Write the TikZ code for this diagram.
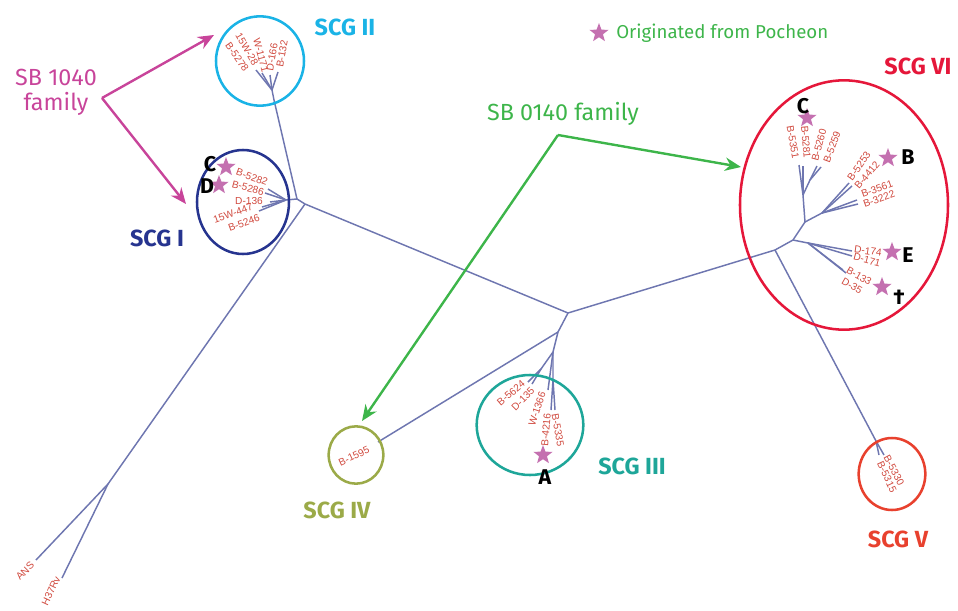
\documentclass[tikz,border=0pt]{standalone}
\usepackage{fontspec}
\setmainfont{Fira Sans}
\setsansfont{Fira Sans}
\newfontfamily\tipfont{Liberation Sans}
\usetikzlibrary{arrows.meta,shapes.geometric}
\definecolor{treeblue}{HTML}{6E76B0}
\definecolor{tipred}{HTML}{D0493E}
\definecolor{scgone}{HTML}{26348F}
\definecolor{scgtwo}{HTML}{1AB3E6}
\definecolor{scgthree}{HTML}{1EA699}
\definecolor{scgfour}{HTML}{9BAA48}
\definecolor{scgfive}{HTML}{E8412E}
\definecolor{scgsix}{HTML}{E5173A}
\definecolor{pinkstar}{HTML}{C470B0}
\definecolor{famA}{HTML}{C8449A}
\definecolor{famB}{HTML}{3DB54A}
\tikzset{
  branch/.style={draw=treeblue, line width=1.1pt},
  tip/.style={font=\tipfont\fontsize{7.6}{7.6}\selectfont, text=tipred, inner sep=0pt},
  grp/.style={ellipse, draw, line width=1.9pt, inner sep=0pt},
  grplabel/.style={font=\bfseries\fontsize{17.5}{17.5}\selectfont, inner sep=0pt},
  fam/.style={font=\fontsize{17.5}{19}\selectfont, inner sep=0pt, align=center},
  pstar/.style={star, star points=5, star point ratio=2.4, fill=pinkstar, draw=none, minimum size=15pt, inner sep=0pt},
  letter/.style={font=\bfseries\fontsize{16}{16}\selectfont, inner sep=0pt},
  famarrow/.style={line width=1.8pt, -{Stealth[length=12pt,width=10pt]}}
}
\begin{document}
\begin{tikzpicture}[x=0.75pt,y=-0.75pt]
\useasboundingbox (0,0) rectangle (958,611);

% ---------- tree coordinates ----------
\coordinate (M1) at (568,313);
\coordinate (N1) at (305,204);
\coordinate (I0) at (297,199);
\coordinate (I1) at (286,200);
\coordinate (Ia) at (268,189);
\coordinate (Ib) at (265,193);
\coordinate (Ic) at (270,202);
\coordinate (Id) at (262,207);
\coordinate (Ie) at (259,211);
\coordinate (BL) at (108,484);
\coordinate (ansE) at (36,560);
\coordinate (h37E) at (62,578);
\coordinate (II0) at (274,100);
\coordinate (II1) at (272,90);
\coordinate (IIa) at (256,70);
\coordinate (IIb) at (262,73);
\coordinate (IIc) at (270,75);
\coordinate (IId) at (278,72);
\coordinate (III0) at (558,332);
\coordinate (III1) at (553,352);
\coordinate (III2) at (541,369);
\coordinate (IIIa) at (528,382);
\coordinate (IIIb) at (532,384);
\coordinate (IIIc) at (548,390);
\coordinate (III3) at (553,380);
\coordinate (IIId) at (551,410);
\coordinate (IIIe) at (555,410);
\coordinate (IVa) at (378,442);
\coordinate (V1) at (775,250);
\coordinate (V2) at (793,240);
\coordinate (V3) at (805,222);
\coordinate (V4) at (803,195);
\coordinate (VIa) at (799,165);
\coordinate (VIb) at (803,166);
\coordinate (V4b) at (810,180);
\coordinate (VIc) at (817,166);
\coordinate (VId) at (821,167);
\coordinate (V3b) at (822,213);
\coordinate (VIe) at (849,183);
\coordinate (VIf) at (852,186);
\coordinate (VIg) at (857,200);
\coordinate (VIh) at (858,204);
\coordinate (V5) at (808,243);
\coordinate (VIi) at (852,251);
\coordinate (VIj) at (852,256);
\coordinate (VIk) at (843,270);
\coordinate (VIl) at (846,273);
\coordinate (V0) at (876,441);
\coordinate (Va) at (879,455);
\coordinate (Vb) at (884,455);

% ---------- branches ----------
\draw[branch] (M1) -- (N1) -- (I0) -- (I1);
\draw[branch] (I1) -- (Ia); \draw[branch] (I1) -- (Ib);
\draw[branch] (I1) -- (Ic); \draw[branch] (I1) -- (Id); \draw[branch] (I1) -- (Ie);
\draw[branch] (N1) -- (BL) -- (ansE); \draw[branch] (BL) -- (h37E);
\draw[branch] (I0) -- (II0) -- (II1);
\draw[branch] (II1) -- (IIa); \draw[branch] (II1) -- (IIb);
\draw[branch] (II1) -- (IIc); \draw[branch] (II1) -- (IId);
\draw[branch] (M1) -- (III0) -- (III1) -- (III2) -- (IIIa); \draw[branch] (III2) -- (IIIb);
\draw[branch] (III1) -- (IIIc);
\draw[branch] (III1) -- (III3) -- (IIId); \draw[branch] (III3) -- (IIIe);
\draw[branch] (III0) -- (IVa);
\draw[branch] (M1) -- (V1) -- (V2) -- (V3) -- (V4) -- (VIa); \draw[branch] (V4) -- (VIb);
\draw[branch] (V4) -- (V4b) -- (VIc); \draw[branch] (V4b) -- (VId);
\draw[branch] (V3) -- (V3b) -- (VIe); \draw[branch] (V3b) -- (VIf);
\draw[branch] (V3b) -- (VIg); \draw[branch] (V3b) -- (VIh);
\draw[branch] (V2) -- (V5) -- (VIi); \draw[branch] (V5) -- (VIj);
\draw[branch] (V5) -- (VIk); \draw[branch] (V5) -- (VIl);
\draw[branch] (V1) -- (V0) -- (Va); \draw[branch] (V0) -- (Vb);

% ---------- group outlines ----------
\node[grp, draw=scgone, minimum width=69pt, minimum height=78pt] (gI) at (243,202) {};
\node[grp, draw=scgtwo, minimum width=66pt, minimum height=67pt] (gII) at (260,61) {};
\node[grp, draw=scgthree, minimum width=80pt, minimum height=75pt] (gIII) at (530,425) {};
\node[grp, draw=scgfour, minimum width=41pt, minimum height=43pt] (gIV) at (356,455) {};
\node[grp, draw=scgfive, minimum width=50pt, minimum height=54pt] (gV) at (892,474) {};
\node[grp, draw=scgsix, minimum width=156pt, minimum height=187pt] (gVI) at (844,205) {};

% ---------- group labels ----------
\node[grplabel, text=scgone] (lI) at (157,238) {SCG I};
\node[grplabel, text=scgtwo] (lII) at (345,27) {SCG II};
\node[grplabel, text=scgthree] (lIII) at (632,466) {SCG III};
\node[grplabel, text=scgfour] (lIV) at (337,510) {SCG IV};
\node[grplabel, text=scgfive] (lV) at (898,539) {SCG V};
\node[grplabel, text=scgsix] (lVI) at (918,66) {SCG VI};

% ---------- tip labels ----------
\node[tip, rotate=45] (tANS) at (25,571) {ANS};
\node[tip, rotate=65] (tH37) at (51,591) {H37Rv};
\node[tip, rotate=-20] (t5282) at (252,177) {B-5282};
\node[tip, rotate=-15] (t5286) at (248,188) {B-5286};
\node[tip] (t136) at (249,201) {D-136};
\node[tip, rotate=20] (t447) at (233,213) {15W-447};
\node[tip, rotate=20] (t5246) at (244,223) {B-5246};
\node[tip, rotate=-60] (t28) at (247,49) {15W-28};
\node[tip, rotate=-55] (t5278) at (237,57) {B-5278};
\node[tip, rotate=-75] (t1171) at (261,55) {W-1171};
\node[tip, rotate=80] (t166) at (272,57) {D-166};
\node[tip, rotate=80] (t132) at (282,54) {B-132};
\node[tip, rotate=40] (t5624) at (511,393) {B-5624};
\node[tip, rotate=45] (t135) at (523,399) {D-135};
\node[tip, rotate=72] (t1366) at (537,409) {W-1366};
\node[tip, rotate=85] (t4216) at (546,430) {B-4216};
\node[tip, rotate=-80] (t5335) at (558,430) {B-5335};
\node[tip, rotate=25] (t1595) at (354,456) {B-1595};
\node[tip, rotate=-62] (t5330) at (894,470) {B-5330};
\node[tip, rotate=-65] (t5315) at (887,477) {B-5315};
\node[tip, rotate=-85] (t5281) at (806,142) {B-5281};
\node[tip, rotate=-80] (t5351) at (793,142) {B-5351};
\node[tip, rotate=75] (t5260) at (819,145) {B-5260};
\node[tip, rotate=70] (t5259) at (832,147) {B-5259};
\node[tip, rotate=55] (t5253) at (859,166) {B-5253};
\node[tip, rotate=50] (t4412) at (867,175) {B-4412};
\node[tip, rotate=20] (t3561) at (877,189) {B-3561};
\node[tip, rotate=20] (t3222) at (879,199) {B-3222};
\node[tip, rotate=-8] (t174) at (868,251) {D-174};
\node[tip, rotate=-15] (t171) at (867,260) {D-171};
\node[tip, rotate=-30] (t133) at (859,276) {B-133};
\node[tip, rotate=-30] (t35) at (852,286) {D-35};

% ---------- stars and letters ----------
\node[pstar] (sC1) at (226,167) {};
\node[pstar] (sD1) at (219,185) {};
\node[letter] (lC1) at (210,164) {C};
\node[letter] (lD1) at (207,186) {D};
\node[pstar] (sC6) at (807,118) {};
\node[letter] (lC6) at (803,106) {C};
\node[pstar] (sB6) at (888,158) {};
\node[letter] (lB6) at (908,157) {B};
\node[pstar] (sE6) at (892,252) {};
\node[letter] (lE6) at (908,255) {E};
\node[pstar] (sX6) at (882,287) {};
\node[letter] (lX6) at (899,297) {†};
\node[pstar] (sA3) at (543,455) {};
\node[letter] (lA3) at (545,477) {A};

% ---------- legend ----------
\node[pstar] (legstar) at (599,33) {};
\node[anchor=west, text=famB, font=\fontsize{14}{14}\selectfont, inner sep=0pt] (legtext) at (616,33) {Originated from Pocheon};

% ---------- family annotations ----------
\node[fam, text=famA] (fam1040) at (56,92) {SB 1040\\family};
\coordinate (fA) at (102,98);
\coordinate (fA1) at (214,35);
\coordinate (fA2) at (186,204);
\draw[famarrow, famA] (fA) -- (fA1);
\draw[famarrow, famA] (fA) -- (fA2);

\node[fam, text=famB] (fam0140) at (563,114) {SB 0140 family};
\coordinate (fB) at (558,135);
\coordinate (fB1) at (741,167);
\coordinate (fB2) at (362,421);
\draw[famarrow, famB] (fB) -- (fB1);
\draw[famarrow, famB] (fB) -- (fB2);
\end{tikzpicture}
\end{document}
